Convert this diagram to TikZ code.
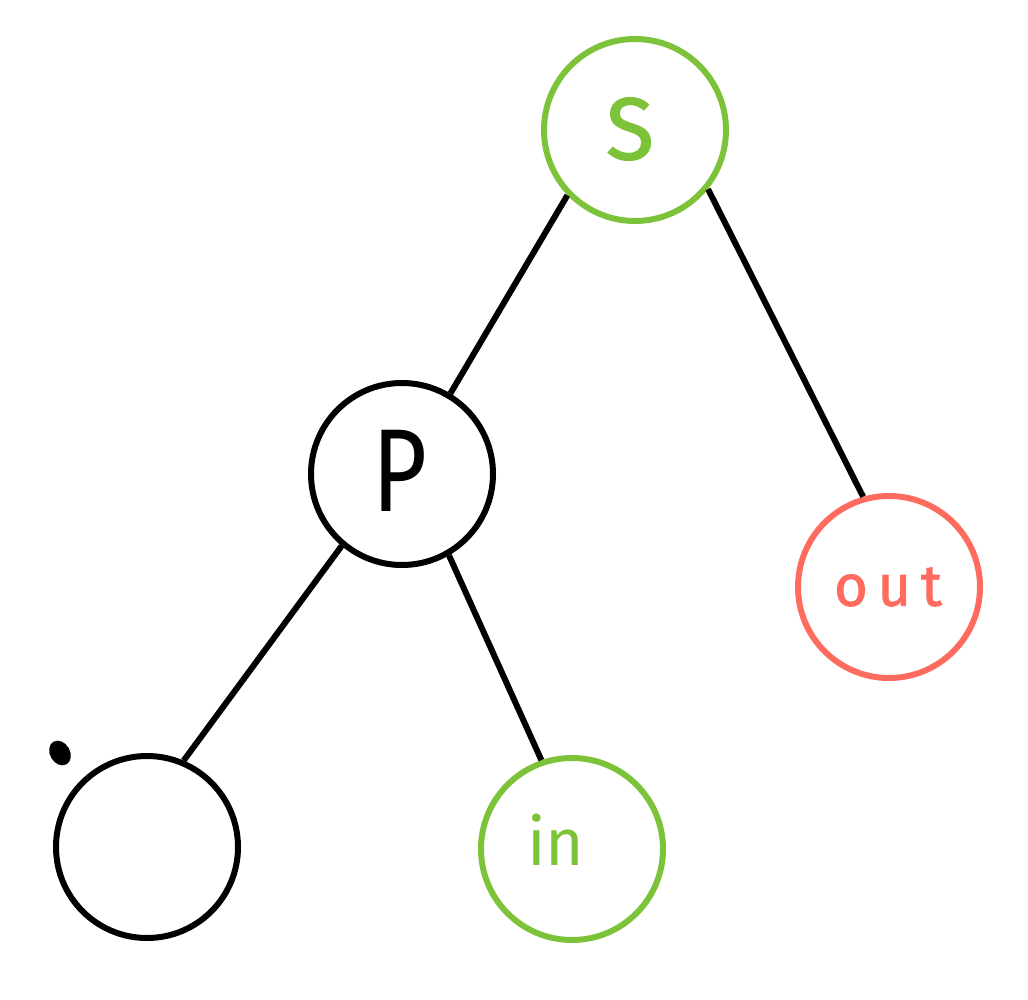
\documentclass[tikz,border=0pt]{standalone}
\usepackage{fontspec}
\setmainfont{Fira Sans}
\definecolor{sgreen}{HTML}{7DC33A}
\definecolor{sred}{HTML}{FF6B5E}
\begin{document}
\begin{tikzpicture}[x=1pt,y=-1pt,
  tnode/.style={circle,draw,line width=6pt,minimum size=182pt,inner sep=0pt},
  edge/.style={line width=6pt,black}]
\useasboundingbox (0,0) rectangle (1028,1000);
\node[tnode,sgreen] (S) at (635,130) {};
\node[tnode,black] (P) at (402,474) {};
\node[tnode,sred] (out) at (889,587) {};
\node[tnode,black] (E) at (147,847) {};
\node[tnode,sgreen] (in) at (572,849) {};
\node[text=sgreen,font=\fontsize{88}{88}\selectfont\addfontfeature{FakeBold=1.5}] (St) at (630,129) {S};
\node[text=black,font=\fontsize{118}{118}\selectfont\addfontfeature{FakeStretch=0.8}] (Pt) at (400,471) {P};
\node[text=sred,font=\fontsize{58}{58}\selectfont\addfontfeature{FakeBold=1.5}] (outt) at (888,587) {o\,u\,t};
\node[text=sgreen,font=\fontsize{66}{66}\selectfont] (int) at (556,840) {in};
\fill[black,rotate around={-60:(60,753)}] (60,753) ellipse (13pt and 10pt);
\draw[edge] (S.224) -- (P.59);
\draw[edge] (S.-39) -- (out.106);
\draw[edge] (P.230) -- (E.67.5);
\draw[edge] (P.-60.7) -- (in.109.8);
\end{tikzpicture}
\end{document}
